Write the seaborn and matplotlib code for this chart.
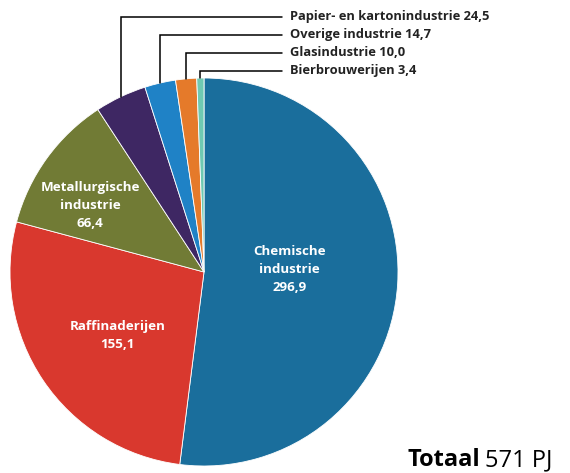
import numpy as np
import matplotlib
matplotlib.use("Agg")
import matplotlib.pyplot as plt
import seaborn as sns

# energy use per sector (PJ)
sectors = ["Chemische industrie", "Raffinaderijen", "Metallurgische industrie",
           "Papier- en kartonindustrie", "Overige industrie", "Glasindustrie",
           "Bierbrouwerijen"]
values = [296.9, 155.1, 66.4, 24.5, 14.7, 10.0, 3.4]
inner_labels = ["Chemische\nindustrie\n296,9", "Raffinaderijen\n155,1",
                "Metallurgische\nindustrie\n66,4"]
outer_labels = ["Papier- en kartonindustrie 24,5", "Overige industrie 14,7",
                "Glasindustrie 10,0", "Bierbrouwerijen 3,4"]
colors = ["#1a6e9c", "#d9382e", "#717b35", "#3e2763", "#1f82c6", "#e57a2a", "#6fc9b2"]

sns.set_theme(style="white")
plt.rcParams["font.family"] = ["Open Sans", "DejaVu Sans"]

W, H = 570, 473
fig = plt.figure(figsize=(W / 100, H / 100), dpi=100)
ax = fig.add_axes([0, 0, 1, 1])

cx, cy, R = 204, H - 272, 194
wedges, _ = ax.pie(values, colors=colors, startangle=90, counterclock=False,
                   center=(cx, cy), radius=R, frame=True,
                   wedgeprops=dict(edgecolor="white", linewidth=0.6))
ax.set_xlim(0, W)
ax.set_ylim(0, H)
ax.set_aspect("equal")
ax.axis("off")

total = sum(values)
cum = np.cumsum([0] + values)
mids = [(cum[i] + cum[i + 1]) / 2 / total * 360 for i in range(len(values))]  # clockwise from top

def pos(theta, r):
    t = np.radians(theta)
    return cx + r * np.sin(t), cy + r * np.cos(t)

# labels inside the big slices
radii = [0.44, 0.55, 0.68]
shifts = [-5, -2.3, -5.6]
for i, lab in enumerate(inner_labels):
    x, y = pos(mids[i] + shifts[i], radii[i] * R)
    ax.text(x, y, lab, color="white", fontsize=9.6, fontweight="bold",
            ha="center", va="center", linespacing=1.5)

# leader lines for the small slices
label_y = [H - 17, H - 35, H - 53, H - 71]
for k, lab in enumerate(outer_labels):
    i = 3 + k
    x0, y0 = pos(mids[i], R)
    ax.plot([x0, x0, 282], [y0, label_y[k], label_y[k]], color="black", lw=1.1,
            solid_joinstyle="miter")
    ax.text(290, label_y[k], lab, fontsize=9.3, fontweight="bold", color="#222222",
            ha="left", va="center")

t1 = ax.text(408, H - 466, "Totaal", fontsize=17, fontweight="bold", color="black",
             ha="left", va="baseline")
fig.canvas.draw()
bb = t1.get_window_extent().transformed(ax.transData.inverted())
ax.text(bb.x1 + 4, H - 466, "571 PJ", fontsize=17, color="black", ha="left", va="baseline")

fig.savefig("out.png", dpi=100)
